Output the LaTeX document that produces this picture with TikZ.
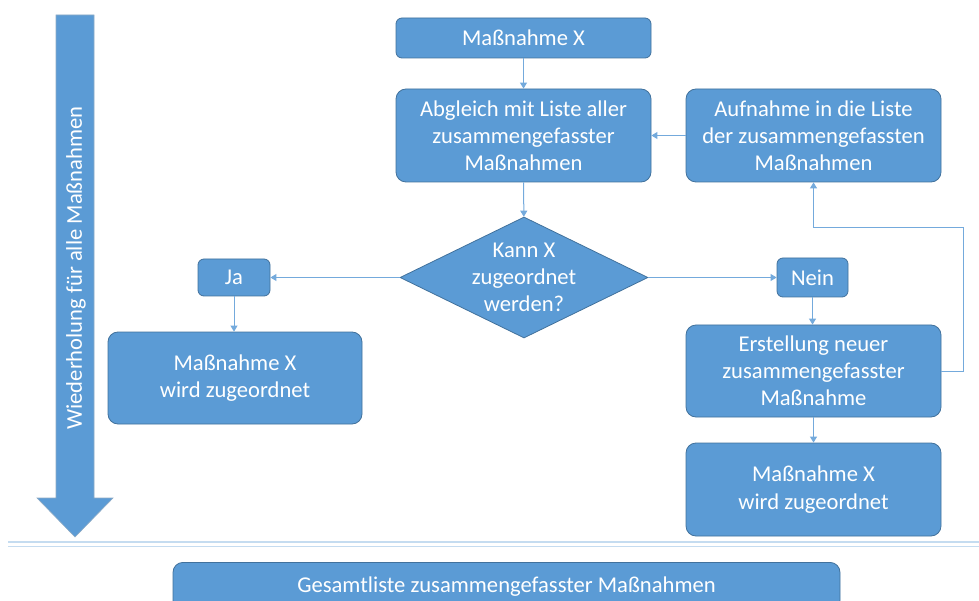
\documentclass[tikz,border=0pt]{standalone}
\usepackage{fontspec}
\setmainfont{Carlito}
\usetikzlibrary{shapes.geometric,arrows.meta}
\definecolor{boxfill}{HTML}{5B9BD5}
\definecolor{boxline}{HTML}{41719C}
\definecolor{conn}{HTML}{74AADC}
\definecolor{sepline}{HTML}{C5DCF0}
\tikzset{
  box/.style={draw=boxline, line width=0.8pt, fill=boxfill, rounded corners=10pt,
    text=white, align=center, inner sep=0pt, font=\fontsize{22.6}{27.2}\selectfont},
  smallbox/.style={box, rounded corners=6pt},
  conn/.style={draw=conn, line width=1pt, -{Triangle[length=6pt,width=7pt]}},
  txt/.style={text=white, align=center, inner sep=0pt, font=\fontsize{22.6}{27.2}\selectfont},
}
\begin{document}
\begin{tikzpicture}[x=1pt,y=-1pt]
\useasboundingbox (0,0) rectangle (979,601);
\clip (0,0) rectangle (979,601);
% big arrow
\path[fill=boxfill, draw=boxline!60, line width=0.6pt]
  (56,15) -- (94,15) -- (94,498) -- (113,498) -- (75,537) -- (37,498) -- (56,498) -- cycle;
\node[txt, rotate=90] (rep) at (76,268) {Wiederholung für alle Maßnahmen};
% separator lines
\draw[sepline, line width=1.6pt] (8,542) -- (979,542);
\draw[sepline, line width=1.6pt] (8,546.5) -- (979,546.5);
% nodes
\node[smallbox, minimum width=255pt, minimum height=40pt] (m1) at (523.5,38) {Maßnahme X};
\node[box, minimum width=255pt, minimum height=93pt] (abgl) at (523.5,135.5) {Abgleich mit Liste aller\\zusammengefasster\\Maßnahmen};
\node[box, minimum width=255pt, minimum height=93pt] (aufn) at (813.5,135.5) {Aufnahme in die Liste\\der zusammengefassten\\Maßnahmen};
\node[diamond, fill=boxfill, draw=boxline, line width=0.8pt, minimum width=248pt, minimum height=121pt, inner sep=0pt] (dia) at (524,277.5) {};
\node[txt] (diat) at (dia.center) {Kann X\\zugeordnet\\werden?};
\node[smallbox, minimum width=72pt, minimum height=37pt] (ja) at (234,277.5) {Ja};
\node[box, minimum width=254pt, minimum height=92pt] (resl) at (235,378) {Maßnahme X\\wird zugeordnet};
\node[smallbox, minimum width=71pt, minimum height=39pt] (nein) at (812.5,277.5) {Nein};
\node[box, minimum width=255pt, minimum height=92pt] (erst) at (813.5,371) {Erstellung neuer\\zusammengefasster\\Maßnahme};
\node[box, minimum width=255pt, minimum height=93pt] (resr) at (813.5,489.5) {Maßnahme X\\wird zugeordnet};
\node[box, minimum width=667pt, minimum height=48pt, anchor=north] (ges) at (506.5,562) {Gesamtliste zusammengefasster Maßnahmen};
% connectors
\coordinate (fb1) at (963,371);
\coordinate (fb2) at (963,228);
\coordinate (fb3) at (813.5,228);
\draw[conn] (m1) -- (abgl);
\draw[conn] (abgl) -- (dia);
\draw[conn] (dia) -- (ja);
\draw[conn] (dia) -- (nein);
\draw[conn] (ja) -- (resl.north -| ja);
\draw[conn] (nein) -- (erst.north -| nein);
\draw[conn] (erst) -- (resr);
\draw[conn] (erst.east) -- (fb1) -- (fb2) -- (fb3) -- (aufn.south);
\draw[conn] (aufn) -- (abgl);
\end{tikzpicture}
\end{document}
